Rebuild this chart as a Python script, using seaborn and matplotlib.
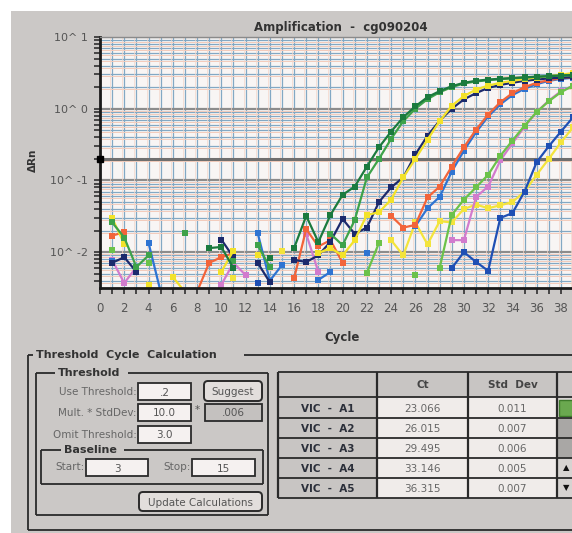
import numpy as np
import pandas as pd
import matplotlib
matplotlib.use("Agg")
import matplotlib.pyplot as plt
import seaborn as sns
from matplotlib.patches import Rectangle, FancyBboxPatch
from matplotlib.ticker import MultipleLocator, LogLocator, FuncFormatter, NullFormatter
from matplotlib import transforms

nan = float("nan")

# ---------------- data ----------------
cycles = list(range(1, 41))

dark_green = [nan, nan, nan, nan, nan, nan, nan, nan, 0.0114, 0.0118,
              0.006, nan, nan, 0.0083, nan, 0.0114, 0.032, 0.0138, 0.033, 0.063,
              0.082, 0.156, 0.29, 0.48, 0.76, 1.08, 1.45, 1.76, 2.06, 2.3,
              2.45, 2.55, 2.62, 2.68, 2.74, 2.8, 2.85, 2.9, 2.95, 3.0]
medium_green = [0.026, 0.016, 0.0062, 0.009, nan, nan, 0.0185, nan, nan, nan,
                0.0075, nan, 0.0125, 0.0062, nan, nan, nan, nan, 0.018, 0.0125,
                0.028, 0.11, 0.2, 0.38, 0.67, 1.0, 1.36, 1.7, 2.0, 2.25,
                2.4, 2.5, 2.58, 2.65, 2.72, 2.78, 2.84, 2.9, 2.95, 3.0]
navy = [0.0071, 0.0085, 0.0053, nan, nan, nan, nan, nan, nan, 0.015,
        0.0085, nan, 0.0071, 0.0038, nan, 0.0078, 0.0073, 0.009, 0.014, 0.029,
        0.018, 0.022, 0.05, 0.08, 0.11, 0.23, 0.42, 0.68, 1.0, 1.35,
        1.65, 1.95, 2.15, 2.3, 2.45, 2.55, 2.65, 2.7, 2.75, 2.8]
yellow_a = [0.030, 0.013, nan, 0.0035, nan, 0.0045, 0.0028, nan, nan, 0.0053,
            0.0105, nan, 0.0091, nan, nan, nan, nan, 0.0097, 0.0114, 0.009,
            0.0147, 0.033, 0.036, 0.054, 0.11, 0.2, 0.37, 0.67, 1.1, 1.5,
            1.85, 2.1, 2.3, 2.45, 2.6, 2.72, 2.85, 2.98, 3.15, 3.3]
orange = [0.017, 0.019, nan, nan, nan, nan, nan, 0.0028, 0.0071, 0.0085,
          0.0097, nan, nan, nan, nan, 0.0043, 0.021, 0.012, 0.0147, 0.0071,
          nan, nan, nan, 0.032, 0.022, 0.024, 0.058, 0.082, 0.156, 0.29,
          0.51, 0.83, 1.23, 1.65, 2.0, 2.3, 2.5, 2.65, 2.75, 2.85]
blue_a = [0.0075, nan, nan, 0.0135, 0.0028, nan, nan, nan, nan, nan,
          nan, nan, 0.0185, 0.004, 0.0066, nan, nan, 0.0041, 0.0053, nan,
          nan, 0.0097, nan, nan, nan, 0.023, 0.041, 0.059, 0.133, 0.26,
          0.47, 0.78, 1.15, 1.55, 1.9, 2.2, 2.45, 2.6, 2.7, 2.8]
light_green = [0.0107, nan, nan, 0.0071, nan, nan, nan, nan, nan, nan,
               nan, nan, nan, nan, nan, nan, nan, nan, nan, 0.0028,
               nan, 0.0051, 0.0135, nan, nan, 0.0048, nan, 0.006, 0.033, 0.054,
               0.08, 0.12, 0.22, 0.36, 0.58, 0.9, 1.27, 1.7, 2.1, 2.4]
pink = [0.0078, 0.0037, 0.0062, nan, nan, nan, nan, nan, nan, 0.0035,
        0.0071, 0.0048, nan, nan, nan, nan, 0.018, 0.0053, nan, nan,
        nan, nan, nan, nan, nan, nan, nan, nan, 0.0147, 0.0147,
        0.059, 0.082, 0.19, 0.33, 0.56, 0.9, 1.3, 1.75, 2.1, 2.4]
blue_b = [nan, nan, nan, nan, nan, nan, nan, nan, nan, nan,
          nan, nan, 0.0037, nan, nan, nan, nan, nan, nan, nan,
          nan, nan, nan, nan, nan, nan, nan, nan, 0.006, 0.01,
          0.0073, 0.0055, 0.030, 0.035, 0.07, 0.18, 0.3, 0.48, 0.76, 1.05]
yellow_b = [nan, nan, nan, nan, nan, nan, nan, nan, nan, nan,
            0.0043, nan, nan, nan, 0.0105, nan, nan, nan, nan, nan,
            nan, nan, nan, 0.0147, 0.009, 0.026, 0.0128, 0.027, 0.026, 0.040,
            0.046, 0.041, 0.045, 0.05, 0.07, 0.12, 0.2, 0.34, 0.55, 0.85]

series = {
    "A5b": yellow_b, "A5a": blue_b, "A4b": pink, "A4a": light_green,
    "A3b": blue_a, "A3a": orange, "A2a": navy, "A2b": yellow_a,
    "A1b": medium_green, "A1a": dark_green,
}
palette = {
    "A5b": "#f3e43c", "A5a": "#1f4fb4", "A4b": "#d27bcd", "A4a": "#6cc24a",
    "A3b": "#2f74d2", "A3a": "#f2643a", "A2a": "#1c2a6c", "A2b": "#f2e22a",
    "A1b": "#3ea24a", "A1a": "#1b7a3e",
}

threshold = 0.2
title = "Amplification  -  cg090204"
wells = ["VIC  -  A1", "VIC  -  A2", "VIC  -  A3", "VIC  -  A4", "VIC  -  A5"]
ct_values = ["23.066", "26.015", "29.495", "33.146", "36.315"]
std_dev = ["0.011", "0.007", "0.006", "0.005", "0.007"]

# long table, split into contiguous segments (gaps where values are missing)
rows = []
seg = 0
for name, vals in series.items():
    prev_nan = True
    for c, v in zip(cycles, vals):
        if np.isnan(v):
            prev_nan = True
            continue
        if prev_nan:
            seg += 1
        prev_nan = False
        rows.append({"series": name, "cycle": c, "rn": v, "seg": seg})
df = pd.DataFrame(rows)

# ---------------- figure ----------------
sns.set_theme(style="white")
plt.rcParams["font.family"] = ["DejaVu Sans"]

W, H = 572, 533
fig = plt.figure(figsize=(W / 100, H / 100), dpi=100, facecolor="white")

bg = fig.add_axes([0, 0, 1, 1])
bg.set_xlim(0, W)
bg.set_ylim(H, 0)
bg.axis("off")
bg.set_zorder(0)
bg.add_patch(Rectangle((11, 11), W - 11, H - 11, fc="#cbc8c6", ec="none"))

L, T, B = 100, 37, 288
px_per_cycle = 12.13
ax = fig.add_axes([L / W, (H - B) / H, 40 * px_per_cycle / W, (B - T) / H])
ax.set_zorder(2)
ax.set_facecolor("#f8f5f4")
ax.set_yscale("log")
ax.set_xlim(0, 40)
ax.set_ylim(10 ** -2.5, 10 ** 1.0)

sns.lineplot(data=df, x="cycle", y="rn", hue="series", units="seg", estimator=None,
             hue_order=list(series.keys()), palette=palette, marker="s",
             markersize=4.5, markeredgewidth=0, linewidth=1.6, legend=False,
             sort=False, ax=ax)

# grid
ax.xaxis.set_major_locator(MultipleLocator(1))
ax.xaxis.set_major_formatter(FuncFormatter(
    lambda v, p: f"{int(round(v))}" if (int(round(v)) % 2 == 0 and v < 39.5) else ""))
ax.yaxis.set_major_locator(LogLocator(base=10, numticks=10))
ax.yaxis.set_minor_locator(LogLocator(base=10, subs=np.arange(2, 10), numticks=20))
ax.yaxis.set_minor_formatter(NullFormatter())
ax.yaxis.set_major_formatter(FuncFormatter(lambda v, p: f"10^ {int(round(np.log10(v)))}"))
ax.set_axisbelow(True)
ax.grid(True, axis="x", which="major", color="#82a8c4", lw=0.9)
ax.grid(True, axis="y", which="minor", color="#82a8c4", lw=0.9)
ax.grid(True, axis="y", which="major", color="#8c8c8c", lw=1.6)

# warm offset copies of the grid (print misregistration look)
off = ax.transData + transforms.ScaledTranslation(0, -0.02, fig.dpi_scale_trans)
lo, hi = ax.get_ylim()
for d in range(-3, 1):
    for m in range(1, 10):
        v = m * 10.0 ** d
        if lo < v < hi:
            ax.plot([0, 40], [v, v], color="#f3cbbb", lw=0.7, transform=off, zorder=0.6)
offx = ax.transData + transforms.ScaledTranslation(-0.02, 0, fig.dpi_scale_trans)
for c in range(1, 40):
    ax.plot([c, c], [lo, hi], color="#f4d6ca", lw=0.5, transform=offx, zorder=0.6)

ax.axhline(threshold, color="#6f6f6f", lw=2.2, zorder=1.5)
ax.plot([0], [threshold], marker="s", color="black", ms=4, clip_on=False, zorder=6)

ax.tick_params(axis="x", which="major", direction="out", length=4, width=1.1,
               color="#222222", pad=6, labelsize=8.5, labelcolor="#555555",
               bottom=True)
ax.tick_params(axis="y", which="both", direction="out", length=4, width=1.1,
               color="#222222", pad=5, labelsize=8, labelcolor="#555555", left=True)
for s in ("left", "bottom"):
    ax.spines[s].set_color("#1a1a1a")
    ax.spines[s].set_linewidth(2)
ax.spines["top"].set_color("#8a8a8a")
ax.spines["top"].set_linewidth(1)
ax.spines["right"].set_visible(False)
ax.set_xlabel("")
ax.set_ylabel("")

bg.text(341, 28, title, ha="center", va="center", fontsize=8.5, fontweight="bold", color="#333333")
bg.text(33, 160, "ΔRn", rotation=90, ha="center", va="center", fontsize=7.5, fontweight="bold", color="#333333")
bg.text(342, 338, "Cycle", ha="center", va="center", fontsize=8.5, fontweight="bold", color="#333333")

# ---------------- lower panel ----------------
LC = "#2a2a2a"


def line(xs, ys, lw=1.3, color=LC):
    bg.plot(xs, ys, color=color, lw=lw, solid_capstyle="butt")


def group(x0, y0, x1, y1, title, tx, gap_end):
    line([x0, x0], [y0, y1])
    line([x1, x1], [y0, y1])
    line([x0, x1], [y1, y1])
    line([x0, tx - 3], [y0, y0])
    line([gap_end, x1], [y0, y0])
    bg.text(tx, y0, title, ha="left", va="center", fontsize=8, fontweight="bold", color="#333333")


def field(x0, y0, x1, y1, txt, fc="#f5f1f0"):
    bg.add_patch(Rectangle((x0, y0), x1 - x0, y1 - y0, fc=fc, ec=LC, lw=1.3))
    bg.text((x0 + x1) / 2, (y0 + y1) / 2 + 1, txt, ha="center", va="center", fontsize=7.5, color="#555555")


def button(x0, y0, x1, y1, txt):
    bg.add_patch(FancyBboxPatch((x0, y0), x1 - x0, y1 - y0, boxstyle="round,pad=0,rounding_size=4",
                                fc="#e2dedc", ec=LC, lw=1.4))
    bg.text((x0 + x1) / 2, (y0 + y1) / 2 + 1, txt, ha="center", va="center", fontsize=7.5, color="#555555")


def label(x, y, txt):
    bg.text(x, y, txt, ha="right", va="center", fontsize=7.5, color="#666666")


# outer group
line([28, 28], [355, 530])
line([28, 572], [530, 530])
line([28, 33], [355, 355])
line([244, 572], [355, 355])
bg.text(36, 355, "Threshold  Cycle  Calculation", ha="left", va="center", fontsize=8,
        fontweight="bold", color="#333333")

group(36, 373, 268, 515, "Threshold", 58, 128)
label(137, 392, "Use Threshold:")
field(138, 383, 191, 400, ".2")
button(204, 381, 262, 401, "Suggest")
label(137, 413, "Mult. * StdDev:")
field(138, 404, 191, 421, "10.0")
bg.text(197, 410, "*", ha="center", va="center", fontsize=7.5, color="#555555")
field(205, 404, 262, 421, ".006", fc="#c4c1bf")
label(137, 435, "Omit Threshold:")
field(138, 426, 191, 443, "3.0")

group(41, 450, 263, 484, "Baseline", 64, 124)
label(85, 467, "Start:")
field(86, 459, 148, 476, "3")
label(191, 467, "Stop:")
field(192, 459, 255, 476, "15")
button(139, 492, 262, 511, "Update Calculations")

# table
xs = [278, 377, 468, 557, 600]
ys = [372, 397, 418, 438, 458, 478, 498]
for i in range(len(ys) - 1):
    for j in range(len(xs) - 1):
        if i == 0 or j == 0:
            fc = "#c8c5c3"
        elif j in (1, 2):
            fc = "#f0ecea"
        else:
            fc = "#a9a7a5" if i in (2, 3) else "#d6d3d1"
        bg.add_patch(Rectangle((xs[j], ys[i]), xs[j + 1] - xs[j], ys[i + 1] - ys[i], fc=fc, ec="none"))
for y in ys:
    line([xs[0], xs[-1]], [y, y], lw=1.3)
for x in xs[:-1]:
    line([x, x], [ys[0], ys[-1]], lw=1.6)
bg.text((xs[1] + xs[2]) / 2, (ys[0] + ys[1]) / 2 + 1, "Ct", ha="center", va="center",
        fontsize=7.5, fontweight="bold", color="#444444")
bg.text((xs[2] + xs[3]) / 2, (ys[0] + ys[1]) / 2 + 1, "Std  Dev", ha="center", va="center",
        fontsize=7.5, fontweight="bold", color="#444444")
for i, (w, ct, sd) in enumerate(zip(wells, ct_values, std_dev)):
    yc = (ys[i + 1] + ys[i + 2]) / 2 + 1
    bg.text((xs[0] + xs[1]) / 2, yc, w, ha="center", va="center", fontsize=7.5,
            fontweight="bold", color="#2b2f3a")
    bg.text((xs[1] + xs[2]) / 2, yc, ct, ha="center", va="center", fontsize=7.5, color="#666666")
    bg.text((xs[2] + xs[3]) / 2, yc, sd, ha="center", va="center", fontsize=7.5, color="#666666")
bg.add_patch(Rectangle((559, 400), 14, 16, fc="#6aa84f", ec="#3d7a2a", lw=1))
bg.text(566, 468, "▲", ha="center", va="center", fontsize=6, color="#111111")
bg.text(566, 488, "▼", ha="center", va="center", fontsize=6, color="#111111")

fig.savefig("out.png", dpi=100, facecolor="white")
